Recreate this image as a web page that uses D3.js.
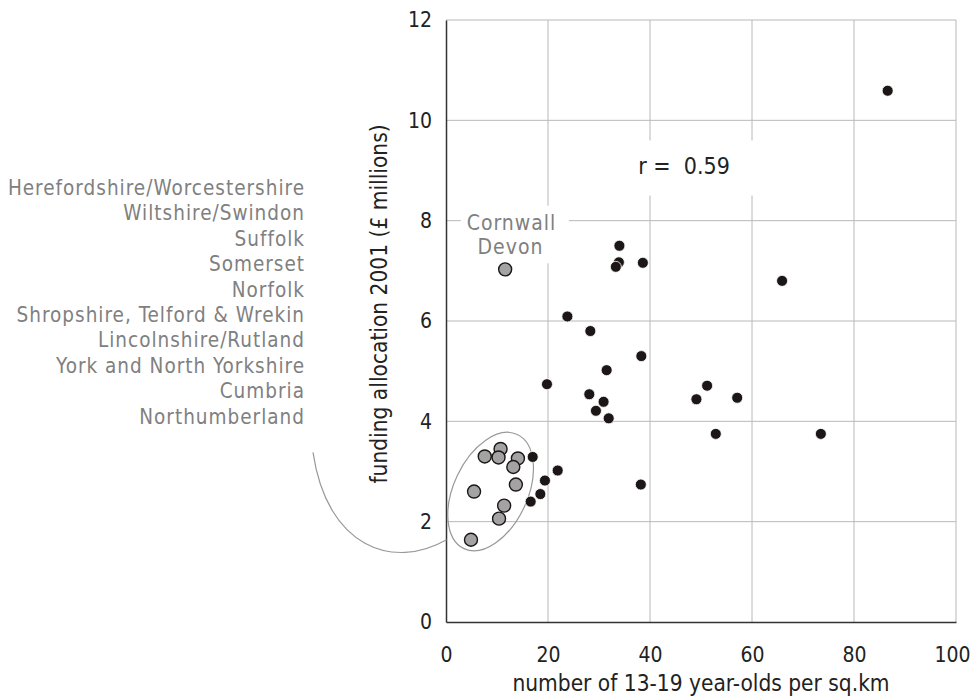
<!DOCTYPE html>
<html>
<head>
<meta charset="utf-8">
<script src="https://cdn.jsdelivr.net/npm/d3@7"></script>
<style>
  body { margin: 0; background: #fff; }
  svg text { font-family: 'DejaVu Sans Condensed', 'DejaVu Sans', sans-serif; }
</style>
</head>
<body>
<div id="chart"></div>
<script>
// density of 13-19 year-olds per sq.km (x) and funding allocation 2001, £m (y)
const ruralX = [10.7, 7.6, 10.3, 14.1, 13.2, 13.7, 5.5, 11.4, 10.4, 4.9];
const ruralY = [3.45, 3.30, 3.28, 3.26, 3.09, 2.74, 2.60, 2.32, 2.06, 1.64];
const ruralNames = ["Herefordshire/Worcestershire", "Wiltshire/Swindon", "Suffolk", "Somerset",
                    "Norfolk", "Shropshire, Telford & Wrekin", "Lincolnshire/Rutland",
                    "York and North Yorkshire", "Cumbria", "Northumberland"];
const cornwallX = [11.6];
const cornwallY = [7.03];
const otherX = [17.0, 21.9, 19.4, 18.5, 16.6, 23.8, 28.3, 38.3, 31.5, 19.8, 28.1, 30.9, 29.4, 31.9,
                51.2, 49.1, 57.1, 52.9, 34.0, 33.9, 33.3, 38.6, 65.9, 73.5, 86.6, 38.2];
const otherY = [3.29, 3.02, 2.82, 2.55, 2.40, 6.09, 5.80, 5.30, 5.02, 4.74, 4.54, 4.39, 4.21, 4.06,
                4.71, 4.44, 4.47, 3.75, 7.50, 7.17, 7.08, 7.16, 6.80, 3.75, 10.59, 2.74];
const xTicks = [0, 20, 40, 60, 80, 100];
const yTicks = [0, 2, 4, 6, 8, 10, 12];
const rLabel = "r =  0.59";

const width = 972, height = 697;
const margin = {left: 446, right: 16, top: 20, bottom: 75};

const svg = d3.select('#chart')
              .append('svg')
              .attr('width', width)
              .attr('height', height);

const x = d3.scaleLinear().domain([0, 100]).range([margin.left, width - margin.right]);
const y = d3.scaleLinear().domain([0, 12]).range([height - margin.bottom, margin.top]);

//grid lines
svg.append('g')
   .selectAll('line')
   .data(xTicks.slice(1))
   .enter().append('line')
   .attr('x1', d => x(d)).attr('x2', d => x(d))
   .attr('y1', y(0)).attr('y2', y(12))
   .attr('stroke', '#b8b8b8').attr('stroke-width', 1);

svg.append('g')
   .selectAll('line')
   .data(yTicks.slice(1))
   .enter().append('line')
   .attr('x1', x(0)).attr('x2', x(100))
   .attr('y1', d => y(d)).attr('y2', d => y(d))
   .attr('stroke', '#b8b8b8').attr('stroke-width', 1);

//axes
const xAxis = svg.append('g')
                 .attr('transform', `translate(0,${y(0)})`)
                 .call(d3.axisBottom(x).tickValues(xTicks).tickSize(0).tickPadding(25));
const yAxis = svg.append('g')
                 .attr('transform', `translate(${x(0)},0)`)
                 .call(d3.axisLeft(y).tickValues(yTicks).tickSize(0).tickPadding(14));

[xAxis, yAxis].forEach(a => {
    a.select('.domain').attr('stroke', '#333').attr('stroke-width', 1.5);
    a.selectAll('text').attr('font-size', 21).attr('fill', '#222')
     .style('font-family', "'DejaVu Sans Condensed', 'DejaVu Sans', sans-serif");
});
//keep the last x label inside the page
xAxis.selectAll('.tick').filter(d => d == 100).select('text').attr('dx', -4);

//axis titles
svg.append('text')
   .text('number of 13-19 year-olds per sq.km')
   .attr('x', x(50)).attr('y', 691)
   .attr('text-anchor', 'middle')
   .attr('font-size', 22.5).attr('fill', '#222');

svg.append('text')
   .text('funding allocation 2001 (£ millions)')
   .attr('transform', `translate(387,${y(6.34)}) rotate(-90)`)
   .attr('text-anchor', 'middle')
   .attr('font-size', 22.5).attr('fill', '#222');

//label boxes hide the grid behind them
svg.append('rect')
   .attr('x', x(2.9)).attr('y', y(8.3))
   .attr('width', x(24.1) - x(2.9)).attr('height', y(7.15) - y(8.3))
   .attr('fill', 'white');
const corn = svg.append('text')
   .attr('text-anchor', 'middle')
   .attr('font-size', 21).attr('letter-spacing', 1).attr('fill', '#808080');
corn.append('tspan').text('Cornwall').attr('x', x(12.85)).attr('y', y(7.82));
corn.append('tspan').text('Devon').attr('x', x(12.65)).attr('y', y(7.34));

svg.append('rect')
   .attr('x', x(35.5)).attr('y', y(9.6))
   .attr('width', x(63.5) - x(35.5)).attr('height', y(8.5) - y(9.6))
   .attr('fill', 'white');
svg.append('text')
   .text(rLabel)
   .attr('x', x(37.7)).attr('y', y(8.93))
   .attr('font-size', 23).attr('fill', '#222')
   .style('white-space', 'pre');

//ellipse around the rural areas
const ecx = x(8.75), ecy = y(2.6);
svg.append('ellipse')
   .attr('cx', ecx).attr('cy', ecy)
   .attr('rx', 63).attr('ry', 37)
   .attr('transform', `rotate(-65,${ecx},${ecy})`)
   .attr('fill', 'none').attr('stroke', '#999').attr('stroke-width', 1.2);

//connector from the list of names to the ellipse
const sx = 313, sy = y(3.38);
const ex = x(0.1), ey = y(1.64);
svg.append('path')
   .attr('d', `M${sx},${sy} C${sx + 14},${sy + 95} ${sx + 80},${sy + 118} ${ex},${ey}`)
   .attr('fill', 'none').attr('stroke', '#999').attr('stroke-width', 1.2);

//names of the rural areas
svg.append('g')
   .selectAll('text')
   .data(ruralNames)
   .enter().append('text')
   .text(d => d)
   .attr('x', 305)
   .attr('y', (d, i) => 195 + i * 25.4)
   .attr('text-anchor', 'end')
   .attr('font-size', 20.5).attr('letter-spacing', 1).attr('fill', '#808080');

//points
svg.append('g')
   .selectAll('circle')
   .data(otherX.map((v, i) => [v, otherY[i]]))
   .enter().append('circle')
   .attr('cx', d => x(d[0])).attr('cy', d => y(d[1]))
   .attr('r', 5.5)
   .attr('fill', '#1c1616')
   .attr('stroke', 'white').attr('stroke-width', 0.8);

svg.append('g')
   .selectAll('circle')
   .data(ruralX.map((v, i) => [v, ruralY[i]]).concat(cornwallX.map((v, i) => [v, cornwallY[i]])))
   .enter().append('circle')
   .attr('cx', d => x(d[0])).attr('cy', d => y(d[1]))
   .attr('r', 6.5)
   .attr('fill', '#a3a3a3')
   .attr('stroke', '#1c1616').attr('stroke-width', 1.4);
</script>
</body>
</html>
